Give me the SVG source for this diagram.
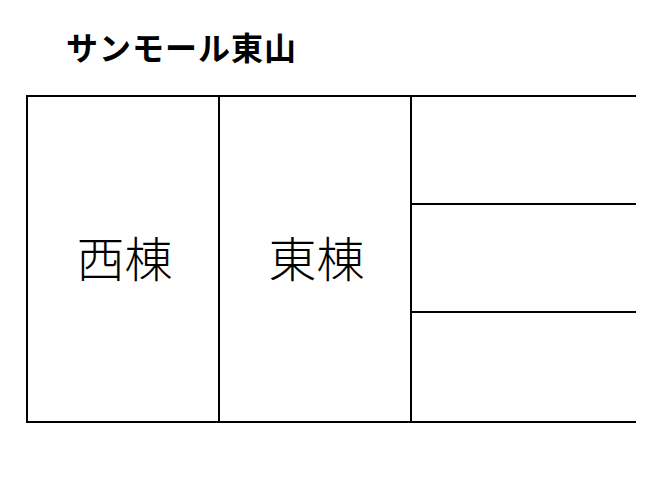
<svg xmlns="http://www.w3.org/2000/svg" width="672" height="503" viewBox="0 0 672 503">
<style>
.ln{stroke:#000;stroke-width:2;fill:none;stroke-linecap:square}
.title{font-family:"Noto Sans CJK JP","Noto Sans CJK SC",sans-serif;font-weight:bold;font-size:32px;letter-spacing:1px;fill:#000}
.lbl{font-family:"Noto Sans CJK JP","Noto Sans CJK SC",sans-serif;font-weight:300;font-size:48px;fill:#000;text-anchor:middle}
</style>
<rect width="672" height="503" fill="#fff"/>
<text id="title" class="title" x="66" y="60">サンモール東山</text>
<g id="connectors">
<path class="ln" d="M635,96 H27 V422 H635"/>
<path class="ln" d="M219,96 V422 M411,96 V422 M411,204 H635 M411,312 H635"/>
</g>
<g id="west"><text class="lbl" x="124.5" y="277">西棟</text></g>
<g id="east"><text class="lbl" x="316.5" y="277">東棟</text></g>
</svg>
